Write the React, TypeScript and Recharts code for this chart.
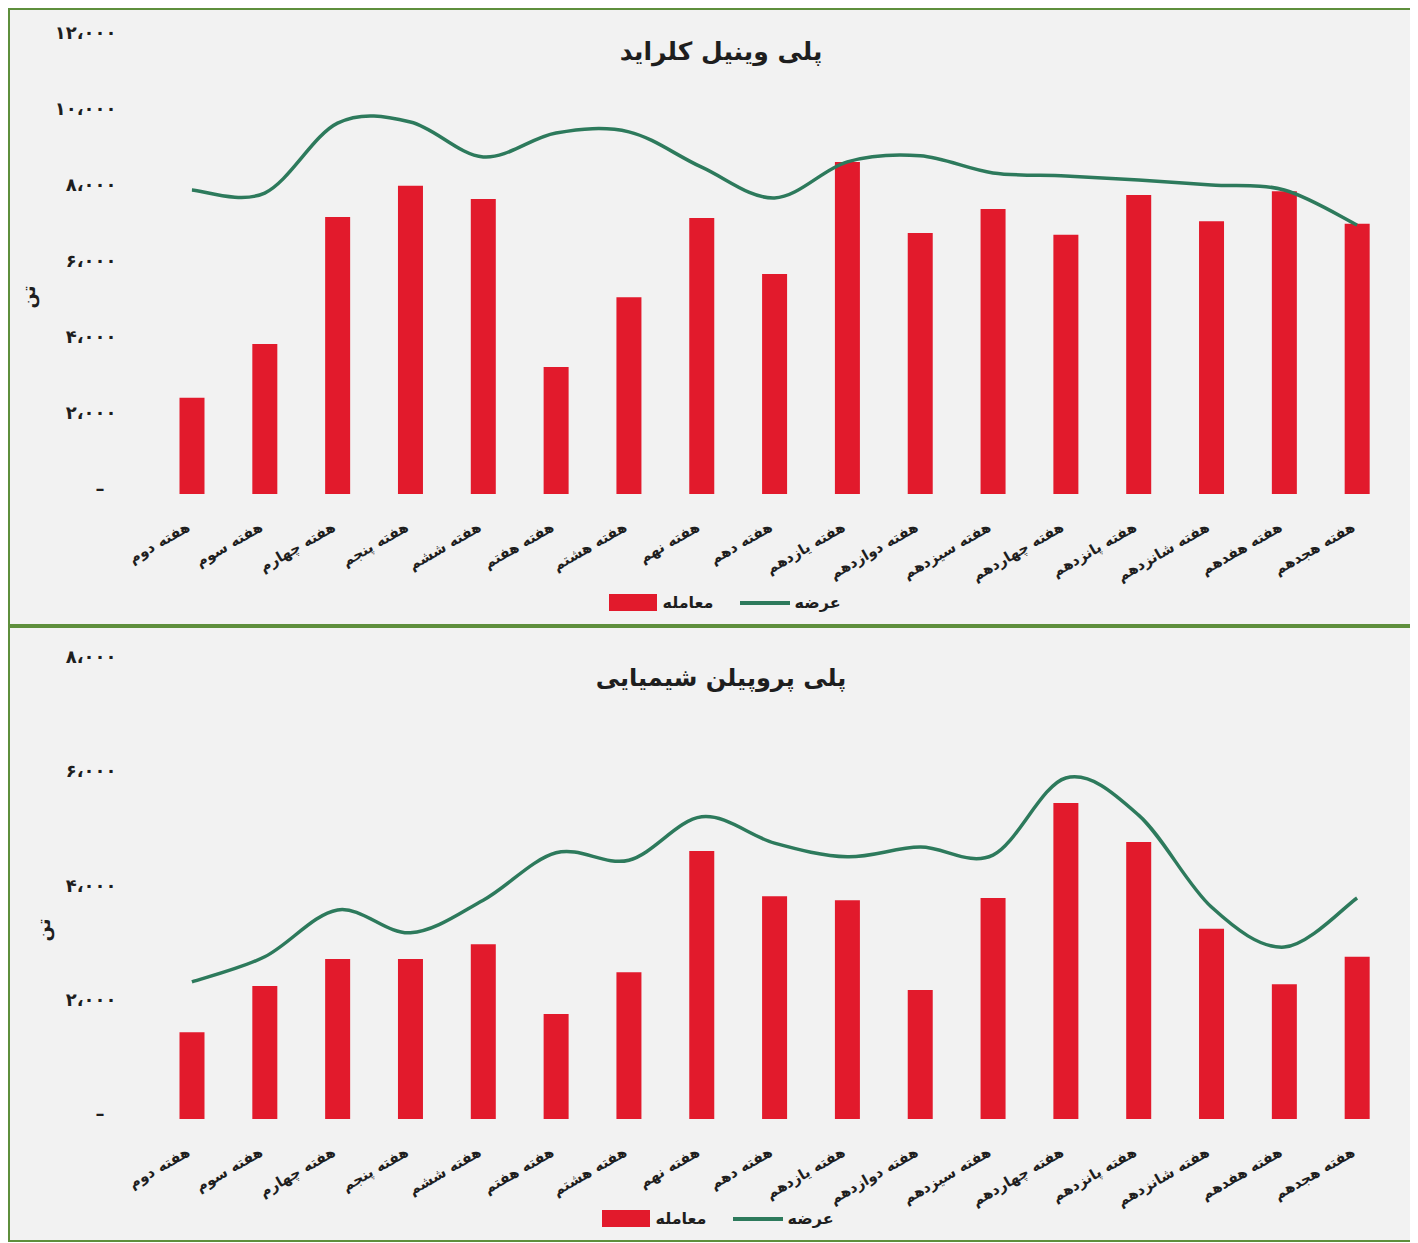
import React from "react";
import { ComposedChart, Bar, Line, XAxis, YAxis, Legend } from "recharts";

const weeks = [
  "هفته دوم",
  "هفته سوم",
  "هفته چهارم",
  "هفته پنجم",
  "هفته ششم",
  "هفته هفتم",
  "هفته هشتم",
  "هفته نهم",
  "هفته دهم",
  "هفته یازدهم",
  "هفته دوازدهم",
  "هفته سیزدهم",
  "هفته چهاردهم",
  "هفته پانزدهم",
  "هفته شانزدهم",
  "هفته هفدهم",
  "هفته هجدهم",
];

// پلی وینیل کلراید
const pvcTrade = [2530, 3950, 7290, 8110, 7760, 3340, 5180, 7260, 5790, 8740, 6870, 7500, 6820, 7870, 7180, 7970, 7110];
const pvcSupply = [8000, 7920, 9760, 9790, 8870, 9500, 9530, 8600, 7790, 8740, 8900, 8450, 8370, 8260, 8130, 8000, 7080];
const pvcTicks = [0, 2000, 4000, 6000, 8000, 10000, 12000];

// پلی پروپیلن شیمیایی
const ppTrade = [1520, 2330, 2800, 2800, 3060, 1840, 2570, 4690, 3900, 3830, 2260, 3870, 5530, 4850, 3330, 2360, 2840];
const ppSupply = [2400, 2840, 3660, 3260, 3830, 4660, 4530, 5290, 4830, 4590, 4760, 4620, 5970, 5320, 3710, 3010, 3870];
const ppTicks = [0, 2000, 4000, 6000, 8000];

const FONT = "'DejaVu Sans', sans-serif";
const BAR_COLOR = "#e21a2c";
const LINE_COLOR = "#2d7a5c";
const TEXT = "#1e1e1e";

const faDigits = "۰۱۲۳۴۵۶۷۸۹";
const toFa = (n: number) =>
  n
    .toString()
    .replace(/\B(?=(\d{3})+(?!\d))/g, ",")
    .replace(/\d/g, (d) => faDigits[+d])
    .replace(/,/g, "،");

// smoothed line like excel (catmull-rom through the points)
function excelSmooth(context: any) {
  let pts: number[][] = [];
  return {
    areaStart() {},
    areaEnd() {},
    lineStart() {
      pts = [];
    },
    point(x: number, y: number) {
      pts.push([+x, +y]);
    },
    lineEnd() {
      if (!pts.length) return;
      context.moveTo(pts[0][0], pts[0][1]);
      for (let i = 0; i < pts.length - 1; i++) {
        const p0 = pts[i - 1] || pts[i];
        const p1 = pts[i];
        const p2 = pts[i + 1];
        const p3 = pts[i + 2] || p2;
        context.bezierCurveTo(
          p1[0] + (p2[0] - p0[0]) / 6,
          p1[1] + (p2[1] - p0[1]) / 6,
          p2[0] - (p3[0] - p1[0]) / 6,
          p2[1] - (p3[1] - p1[1]) / 6,
          p2[0],
          p2[1]
        );
      }
    },
  };
}

const YTick = (props: any) => {
  const { x, y, payload } = props;
  const zero = payload.value === 0;
  return (
    <text
      x={zero ? x - 8 : x + 4}
      y={y}
      dy={1}
      textAnchor="end"
      fontFamily={FONT}
      fontWeight="bold"
      fontSize={18}
      letterSpacing={zero ? 0 : 4.5}
      fill={TEXT}
    >
      {zero ? "–" : toFa(payload.value)}
    </text>
  );
};

const XTick = (props: any) => {
  const { x, y, payload } = props;
  return (
    <g transform={`translate(${x - 1},${y + 36}) rotate(-30)`}>
      <text textAnchor="end" fontFamily={FONT} fontWeight="bold" fontSize={14.5} fill={TEXT}>
        {payload.value}
      </text>
    </g>
  );
};

const LegendContent = (props: any) => {
  const items = [...(props.payload || [])].sort((a: any, b: any) =>
    a.type === "rect" ? -1 : b.type === "rect" ? 1 : 0
  );
  return (
    <div
      style={{
        display: "flex",
        justifyContent: "center",
        alignItems: "center",
        fontFamily: FONT,
        fontWeight: "bold",
        fontSize: 16,
        color: TEXT,
      }}
    >
      {items.map((p: any, i: number) => (
        <div key={i} style={{ display: "flex", alignItems: "center", marginLeft: i ? 26 : 0 }}>
          {p.type === "line" ? (
            <span style={{ display: "inline-block", width: 50, height: 4, background: p.color }} />
          ) : (
            <span style={{ display: "inline-block", width: 48, height: 17, background: p.color }} />
          )}
          <span style={{ marginLeft: 5 }}>{p.value}</span>
        </div>
      ))}
    </div>
  );
};

type PanelProps = {
  title: string;
  trade: number[];
  supply: number[];
  ticks: number[];
  height: number;
  top: number;
  xAxisHeight: number;
  legendTop: number;
  legendLeft: number;
  titleTop: number;
  titleSize: number;
  unitLeft: number;
  unitTop: number;
};

function Panel(p: PanelProps) {
  const data = weeks.map((w, i) => ({ week: w, trade: p.trade[i], supply: p.supply[i] }));
  return (
    <div
      style={{
        position: "relative",
        width: 1406,
        height: p.height,
        border: "2px solid #5e8f3c",
        background: "#f2f2f2",
      }}
    >
      <div
        style={{
          position: "absolute",
          top: p.titleTop,
          left: 0,
          width: 1422,
          textAlign: "center",
          fontFamily: FONT,
          fontWeight: "bold",
          fontSize: p.titleSize,
          color: TEXT,
          direction: "rtl",
        }}
      >
        {p.title}
      </div>
      <div
        style={{
          position: "absolute",
          left: p.unitLeft,
          top: p.unitTop,
          transform: "translate(-50%, -50%) rotate(-90deg)",
          fontFamily: FONT,
          fontWeight: "bold",
          fontSize: 18,
          color: TEXT,
        }}
      >
        تن
      </div>
      <ComposedChart
        width={1406}
        height={p.height}
        data={data}
        margin={{ top: p.top, right: 22.5, left: 0, bottom: 0 }}
        style={{ position: "absolute", top: 0, left: 0 }}
      >
        <XAxis
          dataKey="week"
          interval={0}
          axisLine={false}
          tickLine={false}
          tickSize={0}
          tickMargin={0}
          height={p.xAxisHeight}
          tick={<XTick />}
        />
        <YAxis
          width={145.5}
          domain={[p.ticks[0], p.ticks[p.ticks.length - 1]]}
          ticks={p.ticks}
          axisLine={false}
          tickLine={false}
          tickSize={0}
          tickMargin={43}
          tick={<YTick />}
        />
        <Legend
          verticalAlign="middle"
          align="center"
          layout="horizontal"
          content={<LegendContent />}
          wrapperStyle={{ top: p.legendTop, left: p.legendLeft, width: 1406, height: 24 }}
        />
        <Bar dataKey="trade" name="معامله" fill={BAR_COLOR} barSize={25} legendType="rect" isAnimationActive={false} />
        <Line
          dataKey="supply"
          name="عرضه"
          type={excelSmooth as any}
          stroke={LINE_COLOR}
          strokeWidth={3.5}
          dot={false}
          activeDot={false}
          legendType="line"
          isAnimationActive={false}
        />
      </ComposedChart>
    </div>
  );
}

export default function App() {
  return (
    <div style={{ width: 1410 }}>
      <Panel
        title="پلی وینیل کلراید"
        trade={pvcTrade}
        supply={pvcSupply}
        ticks={pvcTicks}
        height={614}
        top={28}
        xAxisHeight={130}
        legendTop={583}
        legendLeft={12}
        titleTop={27}
        titleSize={25}
        unitLeft={18}
        unitTop={287}
      />
      <Panel
        title="پلی پروپیلن شیمیایی"
        trade={ppTrade}
        supply={ppSupply}
        ticks={ppTicks}
        height={612}
        top={34}
        xAxisHeight={121}
        legendTop={581}
        legendLeft={5}
        titleTop={36}
        titleSize={24}
        unitLeft={33}
        unitTop={302}
      />
    </div>
  );
}
